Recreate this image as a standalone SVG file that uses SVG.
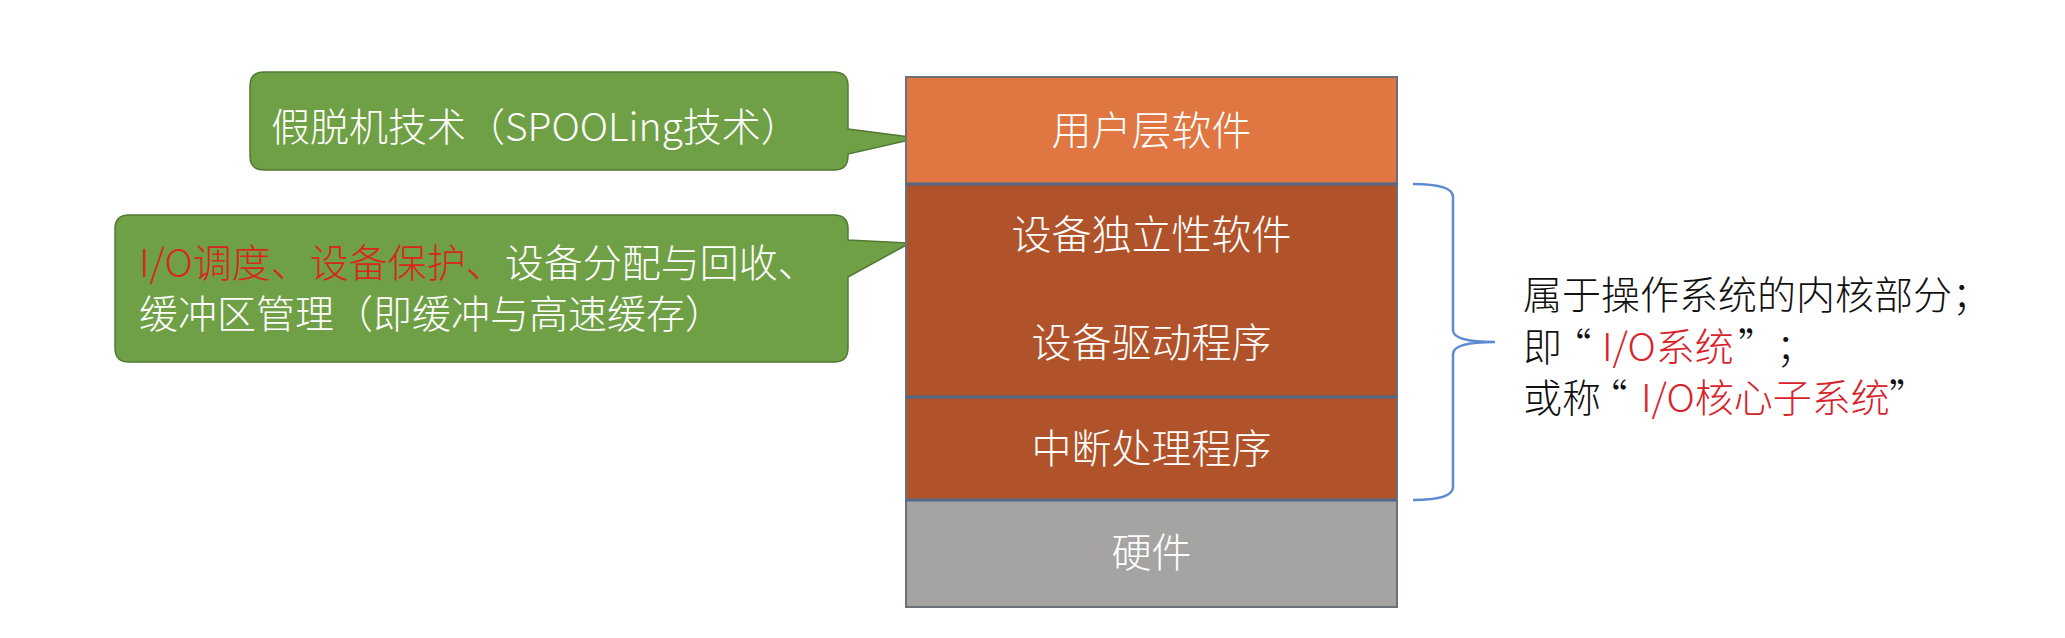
<svg xmlns="http://www.w3.org/2000/svg" width="2065" height="638" viewBox="0 0 2065 638">
<style>
text{font-family:"Noto Sans CJK SC","Liberation Sans",sans-serif;font-weight:300}
.call{fill:#70A046;stroke:#507A34;stroke-width:1.5}
.w{fill:#FFFFFF;font-size:39px}
.red{fill:#D8261F}
.lbl{fill:#FFFFFF;font-size:40px;text-anchor:middle}
.blk{fill:#111111;font-size:39px}
.rr{fill:#D8232B}
.q{font-feature-settings:"halt"}
.sep{stroke:#51698C;stroke-width:3}
</style>
<rect width="2065" height="638" fill="#FFFFFF"/>
<g id="callout-spooling">
<path class="call" d="M264,72 H834 Q848,72 848,86 V129 L918,138 L848,154 V156 Q848,170 834,170 H264 Q250,170 250,156 V86 Q250,72 264,72 Z"/>
<text class="w" x="271" y="141">假脱机技术（SPOOLing技术）</text>
</g>
<g id="callout-device">
<path class="call" d="M129,215 H834 Q848,215 848,229 V240 L910,243 L848,277 V348 Q848,362 834,362 H129 Q115,362 115,348 V229 Q115,215 129,215 Z"/>
<text class="w" x="139" y="277"><tspan class="red">I/O调度、设备保护、</tspan>设备分配与回收、</text>
<text class="w" x="139" y="328">缓冲区管理（即缓冲与高速缓存）</text>
</g>
<g id="stack">
<g id="layer-user">
<rect x="906" y="77" width="491" height="107" fill="#E07642"/>
<text class="lbl" x="1151.5" y="145">用户层软件</text>
</g>
<g id="layer-independent">
<rect x="906" y="184" width="491" height="213" fill="#B1532A"/>
<text class="lbl" x="1151.5" y="249">设备独立性软件</text>
<text class="lbl" x="1151.5" y="357">设备驱动程序</text>
</g>
<g id="layer-interrupt">
<rect x="906" y="397" width="491" height="103" fill="#B1532A"/>
<text class="lbl" x="1151.5" y="463">中断处理程序</text>
</g>
<g id="layer-hardware">
<rect x="906" y="500" width="491" height="107" fill="#A5A4A3"/>
<text class="lbl" x="1151.5" y="567">硬件</text>
</g>
<rect x="906" y="77" width="491" height="530" fill="none" stroke="#6B6F78" stroke-width="2"/>
</g>
<g id="connectors">
<line class="sep" x1="906" y1="184" x2="1397" y2="184"/>
<line class="sep" x1="906" y1="397" x2="1397" y2="397"/>
<line class="sep" x1="906" y1="500" x2="1397" y2="500"/>
<path d="M1413,184 Q1453,184 1453,197 V330 Q1453,342 1495,342 Q1453,342 1453,354 V487 Q1453,500 1413,500" fill="none" stroke="#5B8BD0" stroke-width="2.5"/>
</g>
<g id="note">
<text class="blk" x="1523" y="309">属于操作系统的内核部分；</text>
<text class="blk" y="361"><tspan x="1523">即</tspan><tspan class="q" x="1572">“</tspan><tspan class="rr" x="1602">I/O系统</tspan><tspan class="q" x="1738">”</tspan><tspan x="1776">；</tspan></text>
<text class="blk" y="412"><tspan x="1523">或称</tspan><tspan class="q" x="1608">“</tspan><tspan class="rr" x="1641">I/O核心子系统</tspan><tspan class="q" x="1889">”</tspan></text>
</g>
</svg>
